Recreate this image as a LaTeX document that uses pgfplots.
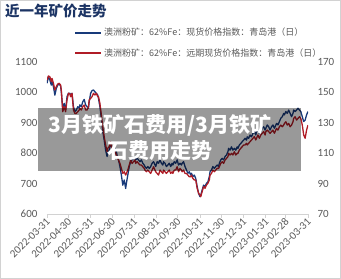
\documentclass[border=0pt]{standalone}
\usepackage{fontspec}
\setmainfont{Carlito}
\newfontfamily\cjk{Noto Sans CJK SC}
\usepackage{pgfplots}
\usepackage{pgfplotstable}
\pgfplotsset{compat=1.18}
\definecolor{cblue}{RGB}{24,58,122}
\definecolor{cred}{RGB}{176,28,38}
\definecolor{tickgray}{RGB}{89,89,89}
\definecolor{axgray}{RGB}{210,210,210}
\definecolor{titleblue}{RGB}{28,52,100}
\pgfplotstableread{
d v
0 1030
2 1052
4 1041
6 1024
7 1035
9 1019
11 991
13 1013
15 1024
17 1028
19 1021
20 1002
22 948
24 964
26 942
28 986
30 997
32 997
33 991
35 997
37 953
39 937
41 942
43 953
45 948
46 959
48 953
50 969
52 977
54 959
56 953
58 948
59 969
61 997
63 1006
65 1008
67 1002
69 997
71 991
72 980
74 953
76 915
78 871
80 843
82 810
84 789
85 800
87 810
89 832
91 816
93 805
95 816
97 805
98 794
100 778
102 756
104 728
106 695
108 712
110 684
111 701
113 728
115 756
117 772
119 778
121 783
123 789
124 778
126 783
128 778
130 772
132 778
134 767
136 761
137 756
139 750
141 756
143 750
145 756
147 767
149 772
150 767
152 756
154 772
156 767
158 778
160 767
162 761
163 772
165 767
167 756
169 761
171 767
173 756
175 767
176 761
178 772
180 767
182 778
184 761
186 767
188 761
189 767
191 772
193 756
195 745
197 734
199 739
201 728
202 734
204 723
206 728
208 717
210 690
212 668
214 657
215 662
217 679
219 695
221 690
223 701
225 706
227 723
228 739
230 745
232 756
234 750
236 756
238 761
240 756
241 767
243 778
245 783
247 778
249 789
251 794
253 805
254 816
256 810
258 821
260 810
262 816
264 810
266 821
267 816
269 827
271 832
273 838
275 843
277 849
279 843
280 854
282 849
284 860
286 854
288 865
290 871
292 860
293 871
295 876
297 865
299 871
301 882
303 887
305 876
306 882
308 893
310 887
312 876
314 887
316 893
318 882
319 887
321 898
323 893
325 904
327 915
329 920
331 931
332 926
334 937
336 931
338 942
340 931
342 920
344 931
345 942
347 937
349 942
351 948
353 942
355 937
357 920
359 904
361 909
363 926
365 937
}\spot
\pgfplotstableread{
d v
0 158.1
2 160.8
4 160.3
6 157.0
7 159.2
9 156.0
11 151.6
13 153.8
15 155.5
17 156.0
19 154.9
20 151.6
22 137.3
24 140.6
26 137.3
28 145.0
30 149.4
32 148.9
33 147.2
35 149.4
37 138.4
39 136.2
41 136.2
43 137.3
45 138.4
46 139.5
48 138.4
50 140.6
52 141.7
54 138.4
56 138.4
58 140.6
59 145.0
61 146.1
63 147.2
65 149.4
67 148.3
69 149.4
71 147.2
72 147.2
74 142.8
76 135.1
78 127.4
80 120.9
82 115.4
84 111.0
85 113.2
87 114.3
89 117.6
91 112.1
93 109.9
95 111.0
97 108.8
98 107.7
100 105.5
102 103.3
104 100.0
106 96.7
108 97.8
110 95.6
111 96.7
113 98.9
115 102.2
117 105.5
119 103.3
121 104.4
123 105.5
124 103.3
126 104.4
128 103.3
130 102.2
132 102.2
134 101.1
136 100.0
137 98.9
139 97.8
141 98.9
143 97.8
145 96.7
147 98.9
149 101.1
150 100.0
152 97.8
154 96.7
156 95.6
158 98.9
160 97.8
162 96.7
163 98.9
165 97.8
167 96.7
169 97.8
171 98.9
173 96.7
175 97.8
176 96.7
178 98.9
180 98.9
182 101.1
184 97.8
186 100.0
188 98.9
189 97.8
191 98.9
193 96.7
195 96.7
197 95.6
199 94.5
201 94.5
202 95.6
204 93.4
206 92.4
208 92.4
210 86.9
212 83.6
214 82.5
215 81.4
217 84.7
219 88.0
221 86.9
223 89.1
225 90.2
227 92.4
228 95.6
230 96.7
232 98.9
234 97.8
236 98.9
238 100.0
240 100.0
241 101.1
243 103.3
245 104.4
247 103.3
249 105.5
251 106.6
253 107.7
254 109.9
256 108.8
258 109.9
260 108.8
262 111.0
264 108.8
266 109.9
267 109.9
269 112.1
271 113.2
273 114.3
275 115.4
277 115.4
279 116.5
280 115.4
282 116.5
284 117.6
286 118.7
288 119.8
290 120.9
292 118.7
293 119.8
295 122.0
297 119.8
299 122.0
301 123.1
303 124.2
305 122.0
306 124.2
308 125.2
310 124.2
312 123.1
314 124.2
316 125.2
318 123.1
319 124.2
321 126.3
323 125.2
325 127.4
327 128.5
329 127.4
331 128.5
332 129.6
334 130.7
336 128.5
338 129.6
340 127.4
342 128.5
344 130.7
345 132.9
347 134.0
349 131.8
351 132.9
353 134.0
355 132.9
357 128.5
359 122.0
361 119.8
363 125.2
365 128.5
}\fwd
\begin{document}
\begin{tikzpicture}
\path[use as bounding box] (0pt,0pt) rectangle (341pt,279pt);
\draw[axgray, line width=0.8pt] (0.4pt,0.4pt) rectangle (340.6pt,278.6pt);
\begin{axis}[
  at={(47pt,65pt)}, anchor=south west,
  scale only axis, width=261pt, height=152pt,
  xmin=0, xmax=365, ymin=600, ymax=1100,
  axis x line*=bottom, axis y line*=left,
  axis line style={-},
  x axis line style={draw=axgray, line width=0.8pt},
  y axis line style={draw=none},
  tick align=outside, major tick length=4pt,
  x tick style={draw=axgray, line width=0.8pt},
  y tick style={draw=none},
  xtick={0,30,61,91,122,153,183,214,244,275,306,334,365},
  xticklabels={2022-03-31,2022-04-30,2022-05-31,2022-06-30,2022-07-31,2022-08-31,2022-09-30,2022-10-31,2022-11-30,2022-12-31,2023-01-31,2023-02-28,2023-03-31},
  ytick={600,700,...,1100},
  /pgf/number format/assume math mode=true,
  /pgf/number format/1000 sep={},
  tick label style={font=\fontsize{11}{11}\selectfont, text=tickgray},
  xticklabel style={rotate=45, anchor=east, xshift=3pt, yshift=-2pt},
  yticklabel style={xshift=-2pt},
  legend style={at={(0.1034,1.237)}, anchor=north west, draw=none, fill=none,
    font=\cjk\fontsize{9}{9}\selectfont, text=tickgray, row sep=7pt, inner sep=0pt,
    cells={anchor=west}},
  legend image code/.code={\draw[#1, line width=2pt] (0pt,0pt) -- (26pt,0pt);},
]
\addplot[cblue, line width=1.3pt, line join=round] table[x=d, y=v] {\spot};
\addlegendentry{澳洲粉矿：62\%Fe：现货价格指数：青岛港（日）}
\addlegendimage{cred, line width=1.3pt}
\addlegendentry{澳洲粉矿：62\%Fe：远期现货价格指数：青岛港（日）}
\end{axis}
\begin{axis}[
  at={(47pt,65pt)}, anchor=south west,
  scale only axis, width=261pt, height=152pt,
  xmin=0, xmax=365, ymin=70, ymax=170,
  axis x line=none, axis y line*=right,
  axis line style={-},
  y axis line style={draw=none},
  tick align=outside, major tick length=4pt,
  y tick style={draw=none},
  ytick={70,90,...,170},
  /pgf/number format/assume math mode=true,
  tick label style={font=\fontsize{11}{11}\selectfont, text=tickgray},
  yticklabel style={xshift=2pt},
]
\addplot[cred, line width=1.3pt, line join=round] table[x=d, y=v] {\fwd};
\end{axis}
\node[anchor=west, inner sep=0pt, text=titleblue, font=\cjk\bfseries\fontsize{14.5}{14.5}\selectfont] at (5pt,268pt) {近一年矿价走势};
\fill[black, opacity=0.4] (38pt,108pt) rectangle (301pt,171pt);
\node[text=white, inner sep=0pt, font=\cjk\bfseries\fontsize{21}{21}\selectfont] at (160pt,154pt) {3月铁矿石费用/3月铁矿};
\node[text=white, inner sep=0pt, font=\cjk\bfseries\fontsize{21}{21}\selectfont] at (160pt,128pt) {石费用走势};
\end{tikzpicture}
\end{document}
